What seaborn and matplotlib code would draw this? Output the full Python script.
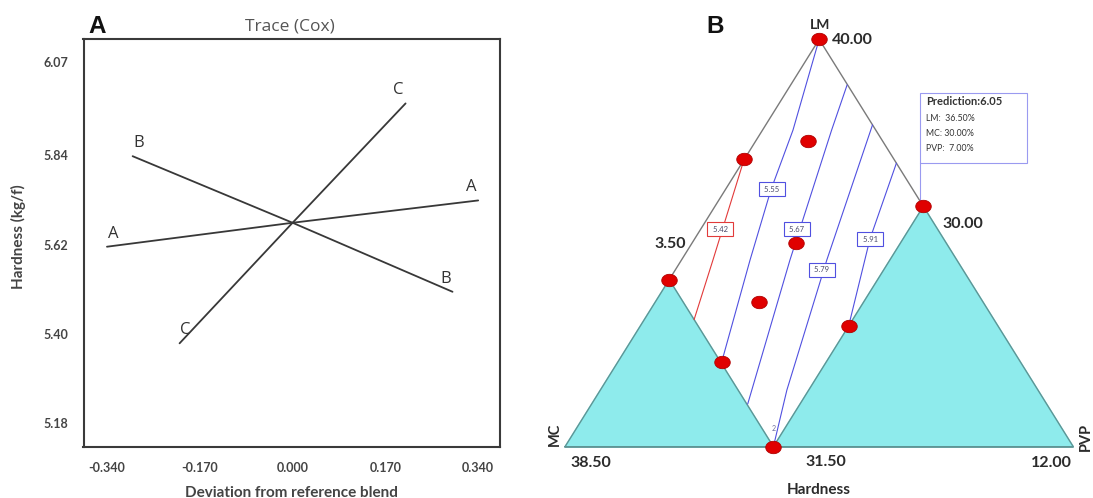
import numpy as np
import pandas as pd
import seaborn as sns
import matplotlib.pyplot as plt
from matplotlib.patches import Rectangle

# Dati pannello A: Trace (Cox)
trace_dev_A = [-0.340, 0.000, 0.340]
trace_hard_A = [5.615, 5.674, 5.729]
trace_dev_B = [-0.293, 0.000, 0.293]
trace_hard_B = [5.838, 5.674, 5.504]
trace_dev_C = [-0.207, 0.000, 0.207]
trace_hard_C = [5.377, 5.674, 5.968]
x_ticks = [-0.340, -0.170, 0.000, 0.170, 0.340]
y_ticks = [5.18, 5.40, 5.62, 5.84, 6.07]

# Dati pannello B: diagramma ternario (frazioni pseudo LM / PVP, MC = 1 - LM - PVP)
mc_max = 0.59
pvp_max = 0.41
design_lm = [1.00, 0.705, 0.751, 0.59, 0.50, 0.41, 0.354, 0.296, 0.209, 0.00]
design_pvp = [0.00, 0.000, 0.102, 0.41, 0.204, 0.00, 0.205, 0.410, 0.204, 0.41]

c542_lm = [0.704, 0.593, 0.458, 0.312]
c542_pvp = [0.000, 0.028, 0.062, 0.098]
c555_lm = [1.000, 0.777, 0.630, 0.458, 0.209]
c555_pvp = [0.000, 0.060, 0.090, 0.135, 0.204]
c567_lm = [0.888, 0.777, 0.458, 0.105]
c567_pvp = [0.111, 0.136, 0.2135, 0.307]
c579_lm = [0.790, 0.458, 0.139, 0.000]
c579_pvp = [0.210, 0.286, 0.367, 0.410]
c591_lm = [0.696, 0.510, 0.296]
c591_pvp = [0.304, 0.345, 0.410]

contour_levels = ['5.42', '5.55', '5.67', '5.79', '5.91']
label_lm = [0.534, 0.632, 0.534, 0.434, 0.509]
label_pvp = [0.038, 0.091, 0.189, 0.288, 0.346]

pred_lines = ['LM:  36.50%', 'MC: 30.00%', 'PVP:  7.00%']


def tern(lm, pvp):
    lm = np.asarray(lm, dtype=float)
    pvp = np.asarray(pvp, dtype=float)
    return pvp + lm / 2, lm


sns.set_style("white")
plt.rcParams['font.family'] = ['Lato', 'DejaVu Sans']

fig = plt.figure(figsize=(10.93, 4.98), dpi=100)

# Pannello A -------------------------------------------------------------
ax = fig.add_axes([83.5 / 1093, 1 - 447 / 498, 416.5 / 1093, 408 / 498])
df_trace = pd.DataFrame({
    'Deviation': trace_dev_A + trace_dev_B + trace_dev_C,
    'Hardness': trace_hard_A + trace_hard_B + trace_hard_C,
    'Component': ['A'] * 3 + ['B'] * 3 + ['C'] * 3,
})
sns.lineplot(data=df_trace, x='Deviation', y='Hardness', hue='Component',
             palette=['#383838'] * 3, legend=False, linewidth=1.3, ax=ax)
for comp, grp in df_trace.groupby('Component'):
    for xe, ye, dx in [(grp['Deviation'].iloc[0], grp['Hardness'].iloc[0], 6),
                       (grp['Deviation'].iloc[-1], grp['Hardness'].iloc[-1], -7)]:
        ax.annotate(comp, (xe, ye), xytext=(dx, 13), textcoords='offset pixels',
                    ha='center', va='center', fontsize=12, color='#333333',
                    family=['Open Sans', 'DejaVu Sans'])

ax.set_xlim(-0.383, 0.380)
ax.set_ylim(5.1216, 6.1267)
ax.set_xticks(x_ticks)
ax.set_xticklabels([f"{t:.3f}" for t in x_ticks])
ax.set_yticks(y_ticks)
ax.set_yticklabels([f"{t:.2f}" for t in y_ticks])
ax.tick_params(direction='out', length=8.5, width=1.2, color='#404040',
               labelsize=9, labelcolor='#444444', pad=2.5)
for lab in ax.get_xticklabels() + ax.get_yticklabels():
    lab.set_fontweight('bold')
for sp in ax.spines.values():
    sp.set_visible(True)
    sp.set_linewidth(1.5)
    sp.set_color('#3a3a3a')
ax.set_xlabel('')
ax.set_ylabel('')
fig.text(18.5 / 1093, 1 - 236.7 / 498, 'Hardness (kg/f)', rotation=90, ha='center',
         va='center', fontsize=11, fontweight='bold', color='#444444')
fig.text(291 / 1093, 1 - 486 / 498, 'Deviation from reference blend', ha='center',
         va='top', fontsize=11, fontweight='bold', color='#444444')
fig.text(290 / 1093, 1 - 26.7 / 498, 'Trace (Cox)', ha='center', va='center',
         fontsize=12.5, color='#555555', family=['Open Sans', 'DejaVu Sans'])
fig.text(96.7 / 1093, 1 - 26.7 / 498, 'A', ha='center', va='center', fontsize=17.5,
         fontweight='bold', color='#111111', family=['Liberation Sans', 'DejaVu Sans'])

# Pannello B -------------------------------------------------------------
ax2 = fig.add_axes([540 / 1093, 0, 553 / 1093, 1])
ax2.set_xlim(-0.0492, 1.0388)
ax2.set_ylim(-0.1259, 1.0965)
ax2.axis('off')

v_mc = tern(0, 0)
v_pvp = tern(0, 1)
v_lm = tern(1, 0)
p_left = tern(1 - mc_max, 0)
p_right = tern(1 - pvp_max, pvp_max)
p_bot = tern(0, pvp_max)

cyan = '#8EEBEC'
edge_teal = '#5E9595'
for tri in [(v_mc, p_left, p_bot), (p_bot, p_right, v_pvp)]:
    xs = [p[0] for p in tri]
    ys = [p[1] for p in tri]
    ax2.fill(xs, ys, color=cyan, zorder=1)
    ax2.plot(xs + [xs[0]], ys + [ys[0]], color=edge_teal, lw=1.0, zorder=2)
ax2.plot([p_left[0], v_lm[0], p_right[0]], [p_left[1], v_lm[1], p_right[1]],
         color='#7a7a7a', lw=1.0, zorder=2)
ax2.plot([v_mc[0], v_pvp[0]], [v_mc[1], v_pvp[1]], color=edge_teal, lw=1.2, zorder=2)

contours = [(c542_lm, c542_pvp), (c555_lm, c555_pvp), (c567_lm, c567_pvp),
            (c579_lm, c579_pvp), (c591_lm, c591_pvp)]
for i, (lm, pvp) in enumerate(contours):
    col = '#E23A3A' if i == 0 else '#5050E0'
    u, v = tern(lm, pvp)
    sns.lineplot(x=u, y=v, sort=False, estimator=None, color=col, lw=0.8,
                 ax=ax2, zorder=3)
    lu, lv = tern(label_lm[i], label_pvp[i])
    ax2.text(lu, lv, ' ' + contour_levels[i] + ' ', ha='center', va='center',
             fontsize=5.5, color='#4a4a6a', zorder=5,
             bbox=dict(boxstyle='square,pad=0.45', fc='white', ec=col, lw=0.8))

du, dv = tern(design_lm, design_pvp)
t = np.linspace(0, 2 * np.pi, 40)
ellipse = list(zip(np.cos(t), 0.8 * np.sin(t)))
sns.scatterplot(x=du, y=dv, marker=ellipse, s=125, color='#E00000',
                edgecolor='#B00000', linewidth=0.6, ax=ax2, zorder=6)

# Box di previsione
ax2.add_patch(Rectangle((0.6984, 0.6956), 0.2111, 0.1733, fill=False,
                        ec='#9A9AF0', lw=0.8, zorder=4))
ax2.plot([0.6984, 0.6984], [0.6956, 0.598], color='#9A9AF0', lw=0.8, zorder=4)
ax2.text(0.710, 0.8468, 'Prediction:6.05', ha='left', va='center', fontsize=8,
         fontweight='bold', color='#333333')
for k, line in enumerate(pred_lines):
    ax2.text(0.710, 0.8068 - k * 0.0375, line, ha='left', va='center',
             fontsize=6.3, color='#333333')

# Etichette dei vertici
txt = dict(textcoords='offset pixels', fontweight='bold', color='#2b2b2b')
ax2.annotate('LM', v_lm, xytext=(1, 14), ha='center', va='center', fontsize=10, **txt)
ax2.annotate('40.00', v_lm, xytext=(13, -1), ha='left', va='center', fontsize=11.5, **txt)
ax2.annotate('3.50', p_left, xytext=(17, 36), ha='right', va='center', fontsize=11.5, **txt)
ax2.annotate('30.00', p_right, xytext=(19, -18), ha='left', va='center', fontsize=11.5, **txt)
ax2.annotate('38.50', v_mc, xytext=(26, -16), ha='center', va='center', fontsize=11.5, **txt)
ax2.annotate('31.50', p_bot, xytext=(52, -15), ha='center', va='center', fontsize=11.5, **txt)
ax2.annotate('12.00', v_pvp, xytext=(-22, -16), ha='center', va='center', fontsize=11.5, **txt)
ax2.annotate('MC', v_mc, xytext=(-10, 12), ha='center', va='center', rotation=90,
             fontsize=10.5, **txt)
ax2.annotate('PVP', v_pvp, xytext=(13, 10), ha='center', va='center', rotation=90,
             fontsize=10.5, **txt)
ax2.annotate('Hardness', (0.5, 0), xytext=(0, -43), ha='center', va='center',
             fontsize=11, **txt)
ax2.annotate('2', p_bot, xytext=(0, 18), textcoords='offset pixels', ha='center',
             va='center', fontsize=5, color='#6a6a9a')
fig.text(715 / 1093, 1 - 26.7 / 498, 'B', ha='center', va='center', fontsize=17.5,
         fontweight='bold', color='#111111', family=['Liberation Sans', 'DejaVu Sans'])

fig.savefig('out.png', dpi=100)
